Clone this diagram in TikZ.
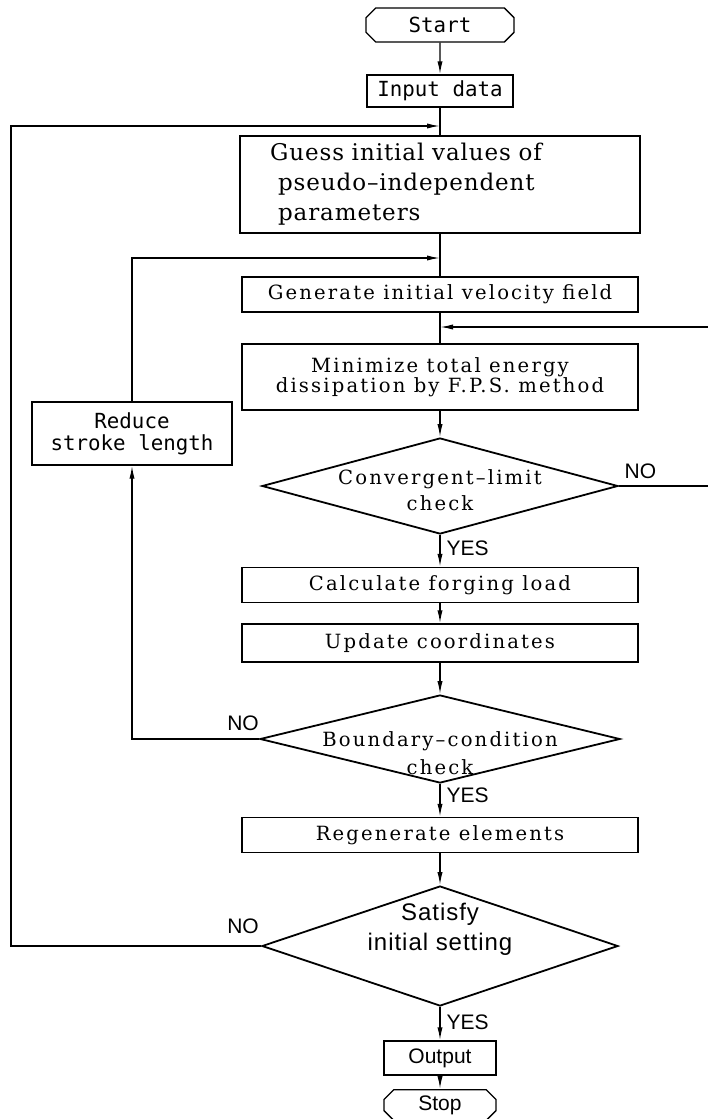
\documentclass[tikz,border=0pt]{standalone}
\usepackage{fontspec}
\usepackage{tikz}
\usetikzlibrary{shapes.geometric,shapes.misc,arrows.meta}
\newfontfamily\boxfont[LetterSpace=11]{DejaVu Serif}
\newfontfamily\guessfont[LetterSpace=4]{DejaVu Serif}
\newfontfamily\plotfont{DejaVu Sans Mono}
\newfontfamily\labfont{Liberation Sans}
\newfontfamily\satfont[LetterSpace=4]{Liberation Sans}

\begin{document}
\begin{tikzpicture}[x=0.5pt, y=-0.5pt, line width=0.7pt]
    \tikzstyle{block} = [rectangle, draw, minimum width=198pt, minimum height=17.5pt, inner sep=0pt, text centered, font=\boxfont\fontsize{9.8}{9.8}\selectfont]
    \tikzstyle{plotbox} = [rectangle, draw, minimum width=73pt, minimum height=16pt, inner sep=0pt, align=center, font=\plotfont\fontsize{10.4}{11}\selectfont]
    \tikzstyle{term} = [chamfered rectangle, chamfered rectangle xsep=2pt, draw, minimum width=74pt, minimum height=17pt, inner sep=0pt]
    \tikzstyle{decision} = [diamond, draw, line width=0.9pt, inner sep=0pt, minimum width=178pt, minimum height=48pt]
    \tikzstyle{dtext} = [align=center, font=\boxfont\fontsize{9.8}{13}\selectfont]
    \tikzstyle{yesno} = [inner sep=0pt, font=\labfont\fontsize{10.5}{12.5}\selectfont]
    \tikzstyle{arrow} = [-{Latex[length=6.5pt,width=2.6pt]}]

    \useasboundingbox (0,0) rectangle (707,1119);

    \node [term, font=\plotfont\fontsize{10.4}{11}\selectfont] (start) at (440,25) {Start};
    \node [plotbox] (input) at (440,91) {Input data};
    \coordinate (j1) at (440,126);
    \node [rectangle, draw, minimum width=200pt, minimum height=48.5pt, text width=170pt, inner xsep=15pt, align=left, font=\guessfont\fontsize{11.5}{15}\selectfont] (guess) at (440,184.5) {Guess initial values of\\\hspace*{4pt}pseudo–independent\\\hspace*{4pt}parameters};
    \coordinate (j2) at (440,258);
    \node [block] (gen) at (440,294.5) {Generate initial velocity field};
    \coordinate (j3) at (440,327);
    \node [block, minimum height=33pt, align=center] (mini) at (440,377) {Minimize total energy\\dissipation by F.P.S. method};
    \node [decision] (conv) at (440,486) {};
    \node [dtext] (convtxt) at (440,490) {Convergent–limit\\check};
    \node [block] (calc) at (440,585) {Calculate forging load};
    \node [block, minimum height=19pt] (upd) at (440,643) {Update coordinates};
    \node [decision, minimum width=180pt, minimum height=44pt] (bound) at (440,739) {};
    \node [dtext, font=\boxfont\fontsize{9.8}{14}\selectfont] (boundtxt) at (440,753) {Boundary–condition\\check};
    \node [block] (regen) at (440,835) {Regenerate elements};
    \node [decision, minimum height=60pt] (sat) at (440,946) {};
    \node [align=center, font=\satfont\fontsize{12}{15}\selectfont] (sattxt) at (440,929) {Satisfy\\initial setting};
    \node [rectangle, draw, minimum width=56pt, minimum height=17pt, inner sep=0pt, font=\labfont\fontsize{10.5}{12}\selectfont] (out) at (440,1058) {Output};
    \node [term, minimum width=56pt, minimum height=12.5pt, font=\labfont\fontsize{10.5}{12}\selectfont] (stop) at (440,1105) {Stop};

    \node [plotbox, minimum width=100pt, minimum height=31.5pt] (reduce) at (132,433.5) {Reduce\\stroke length};

    \node [yesno, anchor=south west] (no1) at (624,479) {NO};
    \node [yesno, anchor=west] (yes1) at (446,548) {YES};
    \node [yesno] (no2) at (243,723) {NO};
    \node [yesno, anchor=west] (yes2) at (446,795) {YES};
    \node [yesno] (no3) at (243,926) {NO};
    \node [yesno, anchor=west] (yes3) at (446,1022) {YES};

    \draw [arrow] (start) -- (input);
    \draw (input) -- (guess);
    \draw (guess) -- (gen);
    \draw (gen) -- (mini);
    \draw [arrow] (mini) -- (conv);
    \draw [arrow] (conv) -- (calc);
    \draw [arrow] (calc) -- (upd);
    \draw [arrow] (upd) -- (bound);
    \draw [arrow] (bound) -- (regen);
    \draw [arrow] (regen) -- (sat);
    \draw [arrow] (sat) -- (out);
    \draw [arrow] (out) -- (stop);

    \draw [arrow] (conv.east) -- (712,486) |- (j3);
    \draw [arrow] (bound.west) -| (reduce.south);
    \draw [arrow] (reduce.north) |- (j2);
    \draw [arrow] (sat.west) -| (11,126) -- (j1);
\end{tikzpicture}
\end{document}
